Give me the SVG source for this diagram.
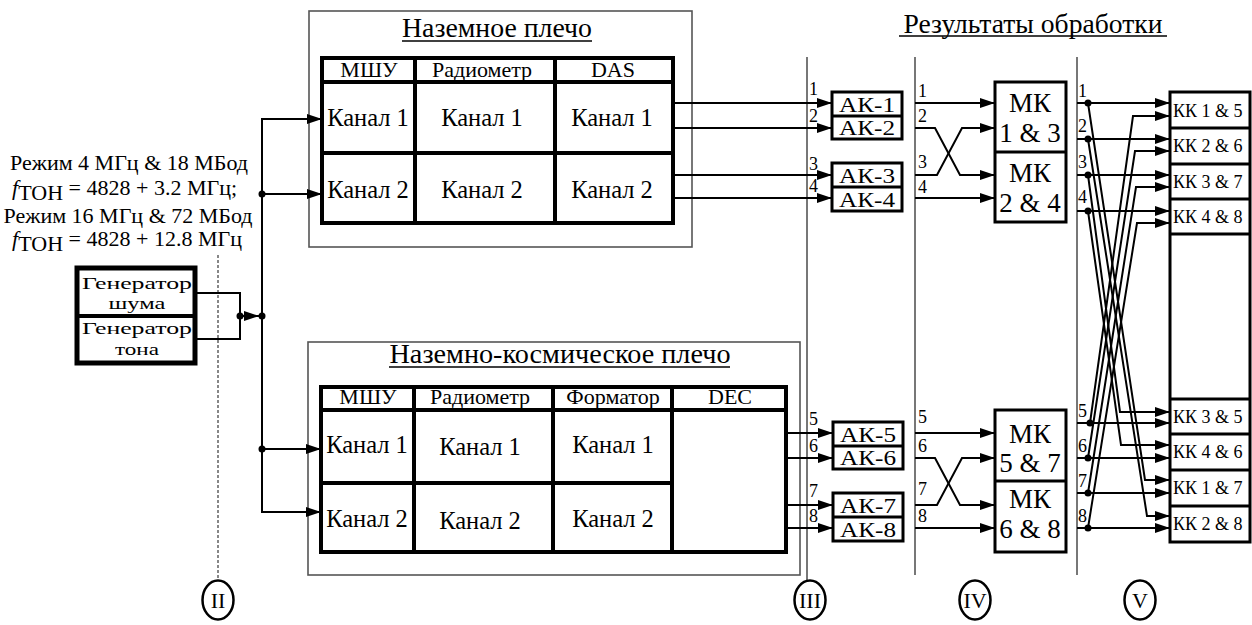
<svg xmlns="http://www.w3.org/2000/svg" width="1252" height="625" viewBox="0 0 1252 625">
<style>
text{fill:#000}
.c{text-anchor:middle}
.frame{fill:none;stroke:#555;stroke-width:1.6}
.tbl{fill:#fff;stroke:#000;stroke-width:4}
.tl{stroke:#000;stroke-width:4}
.box{fill:#fff;stroke:#000;stroke-width:3}
.bl{stroke:#000;stroke-width:3}
.vl{stroke:#555;stroke-width:1.6}
.w{fill:none;stroke:#000;stroke-width:2}
.a{fill:none;stroke:#000;stroke-width:2;marker-end:url(#ah)}
.dot{fill:#000}
.t27{font-size:27px}
.t24{font-size:24.5px}
.t22{font-size:22px}
.t18{font-size:18px}
.ak{font-size:20px}
.ul{stroke:#000;stroke-width:1.6}
.mk{font-size:27px}
</style>
<defs>
<marker id="ah" markerUnits="userSpaceOnUse" markerWidth="15" markerHeight="10" refX="15" refY="5" orient="auto">
<path d="M0,0 L15,5 L0,10 z" fill="#000"/>
</marker>
</defs>
<rect width="1252" height="625" fill="#fff"/>
<g font-family="'Liberation Serif', 'DejaVu Serif', serif">

<g id="mode-text" class="t22">
<text x="129" y="170" class="c">Режим 4 МГц &amp; 18 МБод</text>
<text x="12" y="195"><tspan font-style="italic">f</tspan><tspan dy="5">ТОН</tspan><tspan dy="-5"> = 4828 + 3.2 МГц;</tspan></text>
<text x="128" y="223" class="c">Режим 16 МГц &amp; 72 МБод</text>
<text x="12" y="246"><tspan font-style="italic">f</tspan><tspan dy="5">ТОН</tspan><tspan dy="-5"> = 4828 + 12.8 МГц</tspan></text>
</g>

<g id="generators" font-size="17">
<rect x="77" y="268" width="118" height="95" fill="#fff" stroke="#000" stroke-width="5"/>
<line x1="77" y1="316" x2="195" y2="316" stroke="#000" stroke-width="4"/>
<text x="137" y="289" class="c" textLength="110" lengthAdjust="spacingAndGlyphs">Генератор</text>
<text x="137" y="309" class="c" textLength="57" lengthAdjust="spacingAndGlyphs">шума</text>
<text x="137" y="334" class="c" textLength="110" lengthAdjust="spacingAndGlyphs">Генератор</text>
<text x="137" y="355" class="c" textLength="44" lengthAdjust="spacingAndGlyphs">тона</text>
</g>

<g id="ground-arm">
<rect class="frame" x="309" y="11" width="383" height="236"/>
<text x="497" y="37" class="c t27" textLength="190" lengthAdjust="spacingAndGlyphs">Наземное плечо</text>
<line class="ul" x1="402" y1="41" x2="592" y2="41"/>
<rect class="tbl" x="322" y="58" width="351" height="165"/>
<line class="tl" x1="322" y1="82" x2="673" y2="82"/>
<line class="tl" x1="322" y1="153" x2="673" y2="153"/>
<line class="tl" x1="415" y1="58" x2="415" y2="223"/>
<line class="tl" x1="555" y1="58" x2="555" y2="223"/>
<text x="369" y="77" class="c t22">МШУ</text>
<text x="482" y="77" class="c t22">Радиометр</text>
<text x="613" y="77" class="c t22">DAS</text>
<text x="368" y="126" class="c t24">Канал 1</text>
<text x="482" y="126" class="c t24">Канал 1</text>
<text x="612" y="126" class="c t24">Канал 1</text>
<text x="368" y="198" class="c t24">Канал 2</text>
<text x="482" y="198" class="c t24">Канал 2</text>
<text x="612" y="198" class="c t24">Канал 2</text>
</g>

<g id="ground-space-arm">
<rect class="frame" x="308" y="342" width="492" height="233"/>
<text x="560" y="363" class="c t27" textLength="341" lengthAdjust="spacingAndGlyphs">Наземно-космическое плечо</text>
<line class="ul" x1="389" y1="367" x2="730" y2="367"/>
<rect class="tbl" x="321" y="387" width="465" height="165"/>
<line class="tl" x1="321" y1="410" x2="786" y2="410"/>
<line class="tl" x1="321" y1="483" x2="672" y2="483"/>
<line class="tl" x1="414" y1="387" x2="414" y2="552"/>
<line class="tl" x1="553" y1="387" x2="553" y2="552"/>
<line class="tl" x1="672" y1="387" x2="672" y2="552"/>
<text x="368" y="404" class="c t22">МШУ</text>
<text x="480" y="404" class="c t22">Радиометр</text>
<text x="613" y="404" class="c t22">Форматор</text>
<text x="730" y="404" class="c t22">DEC</text>
<text x="367" y="453" class="c t24">Канал 1</text>
<text x="480" y="455" class="c t24">Канал 1</text>
<text x="613" y="453" class="c t24">Канал 1</text>
<text x="367" y="527" class="c t24">Канал 2</text>
<text x="480" y="529" class="c t24">Канал 2</text>
<text x="613" y="527" class="c t24">Канал 2</text>
</g>

<g id="results-title">
<text x="1033" y="33" class="c t27" textLength="259" lengthAdjust="spacingAndGlyphs">Результаты обработки</text>
<line class="ul" x1="899" y1="36" x2="1167" y2="36"/>
</g>

<g id="section-lines">
<line x1="218" y1="255" x2="218" y2="581" stroke="#555" stroke-width="1.4" stroke-dasharray="3,2"/>
<line class="vl" x1="807" y1="57" x2="807" y2="581"/>
<line class="vl" x1="915" y1="57" x2="915" y2="575"/>
<line class="vl" x1="1077" y1="57" x2="1077" y2="575"/>
</g>

<g id="ak-boxes" class="ak">
<rect class="box" x="832" y="92" width="70" height="47"/>
<line class="bl" x1="832" y1="116" x2="902" y2="116"/>
<text x="867" y="112" class="c" textLength="56" lengthAdjust="spacingAndGlyphs">АК-1</text>
<text x="867" y="135" class="c" textLength="56" lengthAdjust="spacingAndGlyphs">АК-2</text>
<rect class="box" x="832" y="163" width="70" height="48"/>
<line class="bl" x1="832" y1="187" x2="902" y2="187"/>
<text x="867" y="183" class="c" textLength="56" lengthAdjust="spacingAndGlyphs">АК-3</text>
<text x="867" y="207" class="c" textLength="56" lengthAdjust="spacingAndGlyphs">АК-4</text>
<rect class="box" x="833" y="422" width="70" height="47"/>
<line class="bl" x1="833" y1="446" x2="903" y2="446"/>
<text x="868" y="442" class="c" textLength="56" lengthAdjust="spacingAndGlyphs">АК-5</text>
<text x="868" y="465" class="c" textLength="56" lengthAdjust="spacingAndGlyphs">АК-6</text>
<rect class="box" x="833" y="493" width="70" height="48"/>
<line class="bl" x1="833" y1="517" x2="903" y2="517"/>
<text x="868" y="513" class="c" textLength="56" lengthAdjust="spacingAndGlyphs">АК-7</text>
<text x="868" y="537" class="c" textLength="56" lengthAdjust="spacingAndGlyphs">АК-8</text>
</g>

<g id="mk-boxes" class="mk">
<rect class="box" x="995" y="82" width="71" height="140"/>
<line class="bl" x1="995" y1="152" x2="1066" y2="152"/>
<text x="1030" y="112" class="c">МК</text>
<text x="1030" y="142" class="c">1 &amp; 3</text>
<text x="1030" y="182" class="c">МК</text>
<text x="1030" y="212" class="c">2 &amp; 4</text>
<rect class="box" x="995" y="410" width="71" height="142"/>
<line class="bl" x1="995" y1="481" x2="1066" y2="481"/>
<text x="1030" y="443" class="c">МК</text>
<text x="1030" y="472" class="c">5 &amp; 7</text>
<text x="1030" y="508" class="c">МК</text>
<text x="1030" y="538" class="c">6 &amp; 8</text>
</g>

<g id="kk-box" class="t18">
<rect class="box" x="1170" y="92" width="80" height="450"/>
<line class="bl" x1="1170" y1="128" x2="1250" y2="128"/>
<line class="bl" x1="1170" y1="164" x2="1250" y2="164"/>
<line class="bl" x1="1170" y1="199" x2="1250" y2="199"/>
<line class="bl" x1="1170" y1="234" x2="1250" y2="234"/>
<line class="bl" x1="1170" y1="399" x2="1250" y2="399"/>
<line class="bl" x1="1170" y1="434" x2="1250" y2="434"/>
<line class="bl" x1="1170" y1="470" x2="1250" y2="470"/>
<line class="bl" x1="1170" y1="506" x2="1250" y2="506"/>
<text x="1173" y="117">КК 1 &amp; 5</text>
<text x="1173" y="152">КК 2 &amp; 6</text>
<text x="1173" y="188">КК 3 &amp; 7</text>
<text x="1173" y="223">КК 4 &amp; 8</text>
<text x="1173" y="423">КК 3 &amp; 5</text>
<text x="1173" y="458">КК 4 &amp; 6</text>
<text x="1173" y="494">КК 1 &amp; 7</text>
<text x="1173" y="530">КК 2 &amp; 8</text>
</g>

<g id="markers" class="t22">
<ellipse cx="218" cy="600" rx="15.5" ry="19.5" fill="#fff" stroke="#000" stroke-width="2.5"/>
<text x="218" y="608" class="c">II</text>
<ellipse cx="810" cy="600" rx="15.5" ry="19.5" fill="#fff" stroke="#000" stroke-width="2.5"/>
<text x="810" y="608" class="c">III</text>
<ellipse cx="975" cy="600" rx="15.5" ry="19.5" fill="#fff" stroke="#000" stroke-width="2.5"/>
<text x="975" y="608" class="c">IV</text>
<ellipse cx="1140" cy="600" rx="15.5" ry="19.5" fill="#fff" stroke="#000" stroke-width="2.5"/>
<text x="1140" y="608" class="c">V</text>
</g>

<g id="line-labels" class="t18">
<text x="809" y="95">1</text>
<text x="809" y="122">2</text>
<text x="809" y="170">3</text>
<text x="809" y="192">4</text>
<text x="809" y="425">5</text>
<text x="809" y="452">6</text>
<text x="809" y="497">7</text>
<text x="809" y="522">8</text>
<text x="918" y="97">1</text>
<text x="918" y="122">2</text>
<text x="918" y="168">3</text>
<text x="918" y="193">4</text>
<text x="918" y="423">5</text>
<text x="918" y="452">6</text>
<text x="918" y="495">7</text>
<text x="918" y="522">8</text>
<text x="1078" y="97">1</text>
<text x="1078" y="132">2</text>
<text x="1078" y="168">3</text>
<text x="1078" y="203">4</text>
<text x="1078" y="417">5</text>
<text x="1078" y="452">6</text>
<text x="1078" y="487">7</text>
<text x="1078" y="522">8</text>
</g>
</g>

<g id="connectors">
<polyline class="w" points="195,293 240,293 240,339 195,339"/>
<line class="a" x1="240" y1="316" x2="259" y2="316"/>
<line class="w" x1="262" y1="118" x2="262" y2="513"/>
<line class="a" x1="261" y1="119" x2="322" y2="119"/>
<line class="a" x1="262" y1="194" x2="322" y2="194"/>
<line class="a" x1="262" y1="449" x2="321" y2="449"/>
<line class="a" x1="261" y1="512" x2="321" y2="512"/>
<circle class="dot" cx="240" cy="316" r="3.5"/>
<circle class="dot" cx="262" cy="316" r="3.5"/>
<circle class="dot" cx="262" cy="194" r="3.5"/>
<circle class="dot" cx="262" cy="449" r="3.5"/>

<line class="a" x1="673" y1="103" x2="832" y2="103"/>
<line class="a" x1="673" y1="128" x2="832" y2="128"/>
<line class="a" x1="673" y1="175" x2="832" y2="175"/>
<line class="a" x1="673" y1="198" x2="832" y2="198"/>
<line class="a" x1="786" y1="433" x2="833" y2="433"/>
<line class="a" x1="786" y1="458" x2="833" y2="458"/>
<line class="a" x1="786" y1="505" x2="833" y2="505"/>
<line class="a" x1="786" y1="528" x2="833" y2="528"/>

<line class="a" x1="915" y1="103" x2="995" y2="103"/>
<polyline class="a" points="915,128 935,128 960,175 995,175"/>
<polyline class="a" points="915,175 937,175 962,128 995,128"/>
<line class="a" x1="915" y1="198" x2="995" y2="198"/>
<line class="a" x1="915" y1="433" x2="995" y2="433"/>
<polyline class="a" points="915,458 935,458 960,505 995,505"/>
<polyline class="a" points="915,505 937,505 962,458 995,458"/>
<line class="a" x1="915" y1="528" x2="995" y2="528"/>

<line class="a" x1="1077" y1="103" x2="1170" y2="103"/>
<line class="a" x1="1077" y1="139" x2="1170" y2="139"/>
<line class="a" x1="1077" y1="175" x2="1170" y2="175"/>
<line class="a" x1="1077" y1="211" x2="1170" y2="211"/>
<line class="a" x1="1077" y1="423" x2="1170" y2="423"/>
<line class="a" x1="1077" y1="458" x2="1170" y2="458"/>
<line class="a" x1="1077" y1="493" x2="1170" y2="493"/>
<line class="a" x1="1077" y1="528" x2="1170" y2="528"/>
<polyline class="a" points="1088,103 1145,480 1170,480"/>
<polyline class="a" points="1088,139 1147,516 1170,516"/>
<polyline class="a" points="1088,175 1120,412 1170,412"/>
<polyline class="a" points="1088,211 1121,445 1170,445"/>
<polyline class="a" points="1090,423 1133,116 1170,116"/>
<polyline class="a" points="1088,458 1135,151 1170,151"/>
<polyline class="a" points="1088,493 1136,187 1170,187"/>
<polyline class="a" points="1088,528 1137,223 1170,223"/>
<circle class="dot" cx="1088" cy="103" r="3.5"/>
<circle class="dot" cx="1088" cy="139" r="3.5"/>
<circle class="dot" cx="1088" cy="175" r="3.5"/>
<circle class="dot" cx="1088" cy="211" r="3.5"/>
<circle class="dot" cx="1090" cy="423" r="3.5"/>
<circle class="dot" cx="1088" cy="458" r="3.5"/>
<circle class="dot" cx="1088" cy="493" r="3.5"/>
<circle class="dot" cx="1088" cy="528" r="3.5"/>
</g>
</svg>
